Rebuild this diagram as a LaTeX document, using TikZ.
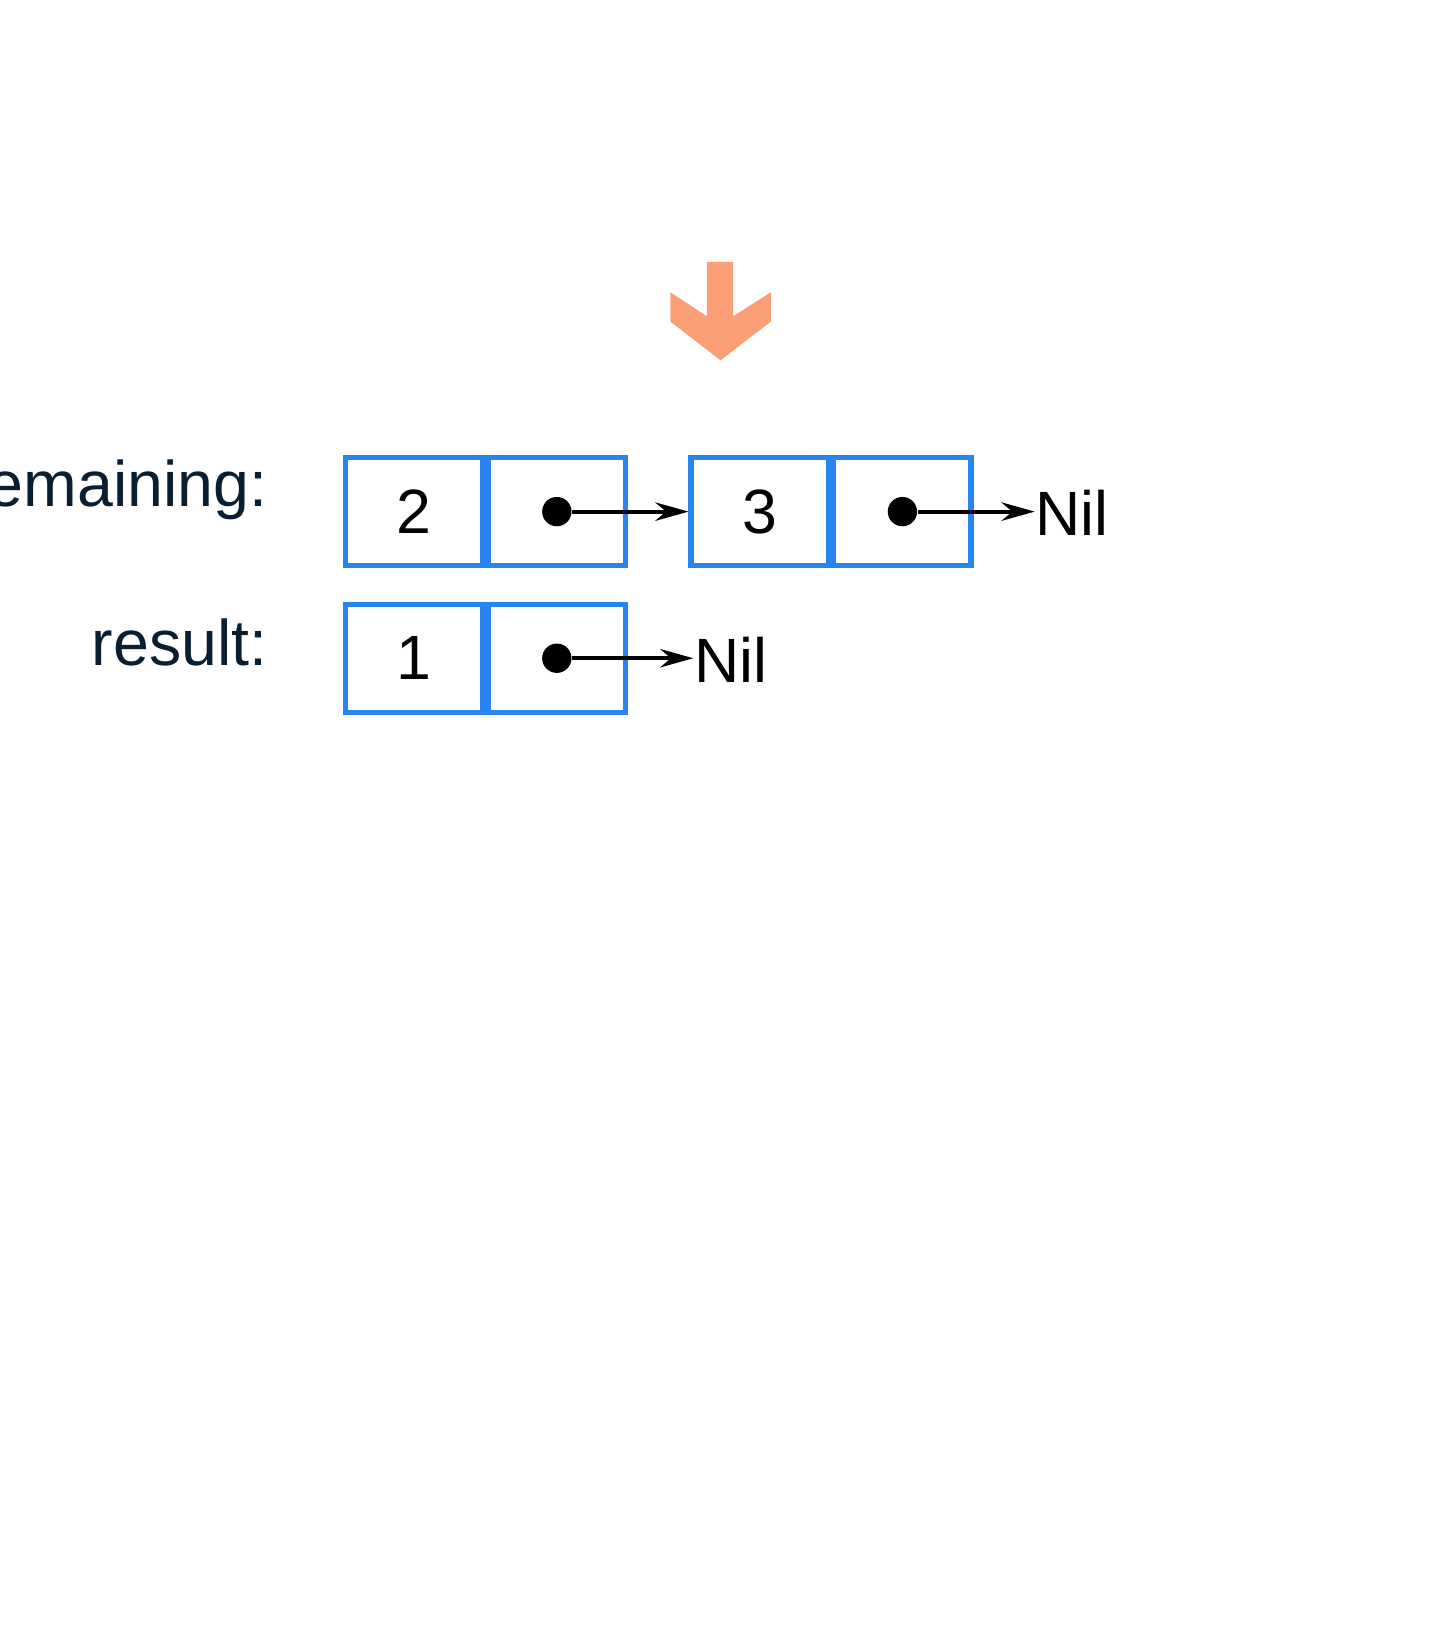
\documentclass[tikz,border=0pt]{standalone}
\usepackage{fontspec}
\setmainfont{Liberation Sans}
\usetikzlibrary{positioning,arrows.meta}
\definecolor{cellblue}{RGB}{40,132,240}
\definecolor{downorange}{RGB}{250,158,118}
\definecolor{labelnavy}{RGB}{10,30,50}
\begin{document}
\begin{tikzpicture}[x=0.01cm,y=-0.01cm,>={Stealth[length=9pt,width=5pt]},
    cell/.style={draw=cellblue,line width=1.45pt,minimum width=1.31cm,minimum height=1.03cm,inner sep=0pt,font=\fontsize{17}{20}\selectfont},
    dot/.style={circle,fill=black,minimum size=0.28cm,inner sep=0pt},
    link/.style={->,line width=1.1pt},
    nil/.style={font=\fontsize{17}{20}\selectfont,inner sep=0pt,anchor=west},
    varlabel/.style={font=\fontsize{17.5}{21}\selectfont,text=labelnavy,anchor=east,inner sep=0pt}]
  \useasboundingbox (0,0) rectangle (1378,1565);
  % orange step arrow
  \fill[downorange] (675,250) -- (700,250) -- (700,302) -- (736,279) -- (736,307)
    -- (688,344) -- (640,307) -- (640,279) -- (675,302) -- cycle;
  % remaining list
  \node[varlabel] (remaining) at (256,468) {remaining:};
  \node[cell] (v2) at (395.5,488.5) {2};
  \node[cell,right=0pt of v2] (p2) {};
  \node[cell] (v3) at (725.5,488.5) {3};
  \node[cell,right=0pt of v3] (p3) {};
  \node[dot] (d2) at (p2) {};
  \node[dot] (d3) at (p3) {};
  \node[nil] (nil1) at (988,490) {Nil};
  \draw[link] (d2) -- (d2 -| v3.west);
  \draw[link] (d3) -- (d3 -| nil1.west);
  % result list
  \node[varlabel] (result) at (256,613) {result:};
  \node[cell] (v1) at (395.5,628.5) {1};
  \node[cell,right=0pt of v1] (p1) {};
  \node[dot] (d1) at (p1) {};
  \node[nil] (nil2) at (662,630) {Nil};
  \draw[link] (d1) -- (d1 -| nil2.west);
\end{tikzpicture}
\end{document}
